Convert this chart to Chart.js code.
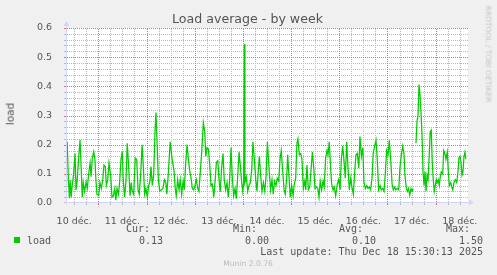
<!DOCTYPE html>
<html><head><meta charset="utf-8">
<script src="https://cdn.jsdelivr.net/npm/chart.js@4.4.1/dist/chart.umd.min.js"></script>
<style>
html,body{margin:0;padding:0;background:#f0f0f0;}
#wrap{position:relative;width:497px;height:275px;overflow:hidden;}
canvas{position:absolute;left:0;top:0;}
.m{position:absolute;white-space:pre;font-family:"DejaVu Sans Mono",monospace;font-size:10px;line-height:10px;color:#555;}
.s{position:absolute;white-space:pre;font-family:"DejaVu Sans",sans-serif;}
</style></head><body>
<div id="wrap">
<canvas id="c" width="497" height="275"></canvas>
<div class="s" style="left:0;width:495px;text-align:center;top:13.1px;font-size:12.6px;line-height:12.6px;color:#555;">Load average - by week</div>
<div class="s" style="left:10px;top:114px;font-size:10.5px;line-height:10.5px;color:#555;transform:translate(-50%,-50%) rotate(-90deg);">load</div>
<div class="s" style="left:488px;top:53.5px;font-size:7.5px;line-height:7.5px;color:#c4c4c4;transform:translate(-50%,-50%) rotate(90deg);">RRDTOOL / TOBI OETIKER</div>
<div class="m" style="right:347px;top:223.5px;">Cur:</div>
<div class="m" style="right:240px;top:223.5px;">Min:</div>
<div class="m" style="right:134px;top:223.5px;">Avg:</div>
<div class="m" style="right:27px;top:223.5px;">Max:</div>
<div style="position:absolute;left:14px;top:237px;width:6px;height:6px;background:#00cc00;"></div>
<div class="m" style="left:27px;top:235.5px;">load</div>
<div class="m" style="right:334px;top:235.5px;">0.13</div>
<div class="m" style="right:228px;top:235.5px;">0.00</div>
<div class="m" style="right:121px;top:235.5px;">0.10</div>
<div class="m" style="right:14px;top:235.5px;">1.50</div>
<div class="m" style="right:14px;top:247.2px;">Last update: Thu Dec 18 15:30:13 2025</div>
<div class="s" style="left:0;width:496px;text-align:center;top:260.1px;font-size:7.6px;line-height:7.6px;color:#bbb;">Munin 2.0.76</div>
</div>
<script>
// hours since 10 Dec 00:00
const hours = [
8.5,9.1,9.6,10.0,10.5,11.0,11.7,12.4,12.9,13.5,
14.2,14.9,15.5,16.0,16.5,17.2,17.9,18.5,19.2,19.9,
20.4,21.0,21.7,22.3,22.8,23.3,24.2,24.8,25.5,26.2,
26.8,27.5,28.0,28.7,29.3,30.2,30.8,31.5,32.2,32.7,
33.3,34.0,34.6,35.3,35.9,36.4,37.1,37.8,38.4,39.1,
39.8,40.4,40.8,41.6,42.4,43.1,43.8,44.4,45.1,45.8,
46.4,47.1,47.7,48.4,49.1,49.7,50.2,50.9,51.6,52.2,
52.7,53.4,53.9,54.6,55.4,56.2,56.9,57.6,58.1,58.7,
59.4,59.8,60.5,61.0,61.7,62.3,62.8,63.5,64.2,64.8,
65.5,66.2,66.8,67.5,68.2,68.8,69.5,70.2,70.8,71.5,
72.3,72.8,73.5,74.1,75.5,76.3,77.0,77.5,78.1,78.8,
79.5,80.1,80.8,81.5,82.1,82.8,83.5,84.1,84.7,85.4,
86.1,86.7,87.4,88.1,88.7,89.4,90.1,90.7,91.4,92.1,
92.7,93.4,94.1,94.7,95.4,95.9,96.4,96.7,97.0,97.7,
98.4,99.0,99.7,100.4,101.0,101.7,102.4,103.0,103.7,104.2,
104.9,105.5,106.2,106.9,107.5,108.2,109.1,109.8,110.5,111.1,
111.8,112.5,113.1,113.8,114.5,115.1,115.8,116.5,117.1,117.8,
118.3,119.0,119.6,120.3,121.0,121.6,122.3,122.9,123.4,124.1,
124.8,125.4,126.1,126.8,127.3,127.9,128.6,129.3,129.9,130.6,
131.3,131.9,132.6,133.3,133.9,134.5,135.2,135.9,136.5,137.2,
137.9,138.4,139.0,139.7,140.2,140.9,141.5,142.2,143.0,143.7,
144.4,145.0,145.7,146.4,147.0,147.7,148.3,149.0,149.7,150.3,
151.0,151.7,152.3,153.0,153.7,154.3,155.0,155.7,156.3,157.0,
157.7,158.3,158.9,159.6,160.3,160.9,161.6,162.3,162.9,163.6,
164.3,164.9,165.6,166.3,166.9,167.6,168.3,168.9,169.6,170.3,
170.9,171.6,172.2,172.9,173.6,174.2,174.9,175.6,176.2,176.7,
177.4,177.9,178.4,179.1,179.7,180.2,180.9,181.5,182.2,182.7,
183.2,183.7,184.2,184.7,185.2,185.7,186.2,186.7,187.2,187.7,
188.2,188.7,189.3,189.8,190.3,190.8,191.3,191.8,192.3,192.8,
193.3,193.8,194.3,194.8,195.5,196.0,196.6,197.1,197.8,198.3,
198.8,199.5,200.0,200.5,201.1,201.8,202.5,203.1,203.6,204.1,
204.6,205.1,205.6,206.1,206.6,207.0
];
const load = [
0.21,0.078,0.016,0.078,0.02,0.06,0.10,0.17,0.044,0.08,
0.154,0.216,0.113,0.02,0.07,0.04,0.072,0.05,0.10,0.137,
0.09,0.154,0.176,0.15,0.08,0.03,0.025,0.07,0.05,0.08,
0.13,0.125,0.06,0.08,0.137,0.09,0.02,0.025,0.05,0.01,
0.05,0.03,0.07,0.15,0.176,0.08,0.02,0.08,0.205,0.125,
0.025,0.07,0.044,0.03,0.154,0.15,0.045,0.03,0.10,0.20,
0.125,0.03,0.05,0.02,0.06,0.075,0.125,0.06,0.10,0.24,
0.31,0.18,0.08,0.04,0.045,0.05,0.08,0.07,0.03,0.085,
0.165,0.21,0.165,0.14,0.11,0.05,0.025,0.08,0.045,0.08,
0.03,0.075,0.045,0.137,0.20,0.154,0.11,0.085,0.05,0.045,
0.065,0.08,0.05,0.04,0.176,0.275,0.245,0.16,0.19,0.185,
0.13,0.06,0.065,0.02,0.07,0.14,0.145,0.08,0.038,0.12,
0.17,0.08,0.045,0.07,0.02,0.08,0.19,0.09,0.025,0.05,
0.015,0.09,0.175,0.13,0.07,0.04,0.07,0.544,0.07,0.09,
0.04,0.06,0.07,0.115,0.21,0.15,0.08,0.04,0.115,0.16,
0.09,0.04,0.07,0.04,0.09,0.21,0.11,0.045,0.08,0.03,
0.075,0.06,0.085,0.075,0.15,0.18,0.11,0.045,0.03,0.085,
0.165,0.085,0.02,0.06,0.025,0.065,0.085,0.205,0.22,0.165,
0.17,0.15,0.05,0.075,0.045,0.13,0.045,0.055,0.11,0.175,
0.12,0.05,0.055,0.05,0.02,0.075,0.045,0.075,0.055,0.155,
0.18,0.165,0.21,0.12,0.065,0.045,0.055,0.025,0.065,0.08,
0.045,0.15,0.195,0.14,0.085,0.21,0.125,0.045,0.085,0.055,
0.03,0.11,0.165,0.17,0.12,0.228,0.16,0.19,0.07,0.05,
0.06,0.05,0.055,0.045,0.085,0.17,0.195,0.215,0.15,0.045,
0.06,0.045,0.05,0.04,0.10,0.18,0.165,0.215,0.15,0.065,
0.045,0.055,0.045,0.05,0.045,0.12,0.165,0.195,0.17,0.095,
0.05,0.04,0.05,0.027,0.05,0.04,0.05,null,0.205,0.28,
0.30,0.406,0.37,0.31,0.233,0.107,0.06,0.107,0.04,0.095,
0.08,0.15,0.245,0.25,0.14,0.08,0.04,0.06,0.08,0.07,
0.08,0.06,0.09,0.107,0.10,0.18,0.17,0.15,0.175,0.107,
0.06,0.07,0.055,0.045,0.07,0.08,0.07,0.107,0.155,0.16,
0.14,0.095,0.107,0.16,0.175,0.15
];
const dayLabels = ['10 déc.','11 déc.','12 déc.','13 déc.','14 déc.','15 déc.','16 déc.','17 déc.','18 déc.'];
const xMin = 8.4, xMax = 208.1;   // 10 Dec ~08:24 .. 18 Dec ~16:06
const yMin = 0, yMax = 0.6;

const MAJOR = '#ea6a6a', MINOR = '#b9b9b9', AXIS = '#cfd6f8';

const pts = hours.map((h, i) => ({x: h, y: load[i]}));

const frame = {
  id: 'frame',
  beforeDraw(chart) {
    const {ctx, chartArea: a} = chart;
    ctx.save();
    ctx.fillStyle = '#f0f0f0';
    ctx.fillRect(0, 0, chart.width, chart.height);
    ctx.fillStyle = '#ffffff';
    ctx.fillRect(a.left, a.top, a.right - a.left, a.bottom - a.top);
    ctx.restore();
  },
  beforeDatasetsDraw(chart) {
    const {ctx, chartArea: a, scales: {x, y}} = chart;
    const top = Math.round(a.top), bot = Math.round(a.bottom) - 1;
    const left = Math.round(a.left) - 1, right = Math.round(a.right);
    ctx.save();
    // dotted grid, rrdtool style: minor first, major on top
    const vx = x.ticks.map((t) => ({p: Math.round(x.getPixelForValue(t.value)), major: t.value % 24 === 0}));
    const hy = y.ticks.map((t, i) => ({p: Math.min(Math.round(y.getPixelForValue(t.value)), bot), major: i % 5 === 0}));
    [false, true].forEach((pass) => {
      ctx.fillStyle = pass ? MAJOR : MINOR;
      vx.filter((g) => g.major === pass).forEach((g) => {
        for (let yy = top + 1; yy < bot; yy += 2) ctx.fillRect(g.p, yy, 1, 1);
        ctx.fillRect(g.p, bot + 1, 1, 2);
      });
      hy.filter((g) => g.major === pass).forEach((g) => {
        for (let xx = left + 1; xx < right; xx += 2) ctx.fillRect(xx, g.p, 1, 1);
        ctx.fillRect(left - 2, g.p, 2, 1);
      });
    });
    // axes with arrows
    const x0 = left + 0.5, y0 = bot + 0.5;
    ctx.strokeStyle = AXIS; ctx.fillStyle = AXIS; ctx.lineWidth = 1;
    ctx.beginPath();
    ctx.moveTo(x0 - 2, y0); ctx.lineTo(right + 1, y0);
    ctx.moveTo(x0, y0 + 2); ctx.lineTo(x0, top - 3);
    ctx.stroke();
    ctx.beginPath();
    ctx.moveTo(right + 1, y0 - 3); ctx.lineTo(right + 6, y0); ctx.lineTo(right + 1, y0 + 3); ctx.closePath();
    ctx.fill();
    ctx.beginPath();
    ctx.moveTo(x0 - 3, top - 2); ctx.lineTo(x0, top - 7); ctx.lineTo(x0 + 3, top - 2); ctx.closePath();
    ctx.fill();
    ctx.restore();
  }
};

new Chart(document.getElementById('c').getContext('2d'), {
  type: 'line',
  data: {datasets: [{
    data: pts, borderColor: '#00cc00', borderWidth: 1.25, pointRadius: 0,
    tension: 0, fill: false, spanGaps: false
  }]},
  options: {
    responsive: false, animation: false, devicePixelRatio: 1,
    layout: {padding: {left: 0, right: 29, top: 28, bottom: 0}},
    plugins: {legend: {display: false}, tooltip: {enabled: false}, title: {display: false}},
    scales: {
      x: {
        type: 'linear', min: xMin, max: xMax,
        afterBuildTicks: (s) => { const t = []; for (let h = 12; h <= 204; h += 6) t.push({value: h}); s.ticks = t; },
        afterFit: (s) => { s.height = 72; },
        ticks: {
          autoSkip: false, maxRotation: 0, padding: 5, color: '#555',
          font: {family: 'DejaVu Sans', size: 9.5},
          callback: (v) => (v % 24 === 12 ? dayLabels[(v - 12) / 24] : '')
        },
        grid: {display: false},
        border: {display: false}
      },
      y: {
        min: yMin, max: yMax,
        afterBuildTicks: (s) => { s.ticks = Array.from({length: 31}, (_, i) => ({value: i * 0.02})); },
        afterFit: (s) => { s.width = 67; },
        ticks: {
          autoSkip: false, padding: 7, color: '#555',
          font: {family: 'DejaVu Sans', size: 9.5},
          callback: (v, i) => (i % 5 === 0 ? (i * 0.02).toFixed(1) : '')
        },
        grid: {display: false},
        border: {display: false}
      }
    }
  },
  plugins: [frame]
});
</script>
</body></html>
